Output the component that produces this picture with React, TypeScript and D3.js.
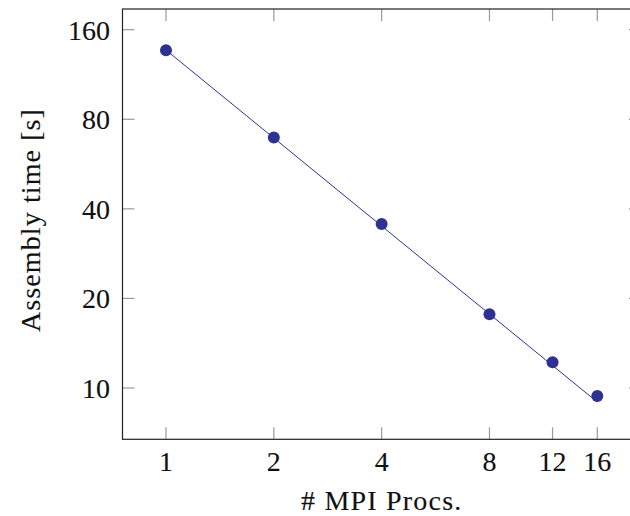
import React from "react";
import * as d3 from "d3";

const procs = [1, 2, 4, 8, 12, 16];
const times = [136.5, 69.5, 35.6, 17.7, 12.2, 9.4];
const fitProcs = [1, 16];
const fitTimes = [136.7, 8.97];
const xTicks = [1, 2, 4, 8, 12, 16];
const yTicks = [10, 20, 40, 80, 160];
const xLabel = "# MPI Procs.";
const yLabel = "Assembly time [s]";

const W = 630;
const H = 516;
const frame = { left: 122.5, right: 641, top: 9, bottom: 439.3 };
const color = "#2f3192";
const font = "'Liberation Serif', 'Times New Roman', serif";

export default function App() {
  const x = d3.scaleLog().base(2).domain([1, 16]).range([166, 597.3]);
  const y = d3.scaleLog().base(2).domain([10, 160]).range([388, 29.7]);
  const line = d3
    .line<number>()
    .x((_, i) => x(fitProcs[i]))
    .y((d) => y(d));
  const tickLen = 12;
  const textProps = { fill: "#111", stroke: "#111", strokeWidth: 0.12 };
  return (
    <svg
      width={W}
      height={H}
      style={{ position: "absolute", left: 0, top: 0, background: "#fff" }}
      fontFamily={font}
    >
      <rect x={0} y={0} width={W} height={H} fill="#fff" />
      {xTicks.map((t) => (
        <g key={"xt" + t} stroke="#9a9a9a" strokeWidth={1.2}>
          <line x1={x(t)} x2={x(t)} y1={frame.bottom} y2={frame.bottom - tickLen} />
          <line x1={x(t)} x2={x(t)} y1={frame.top} y2={frame.top + tickLen} />
        </g>
      ))}
      {yTicks.map((t) => (
        <g key={"yt" + t} stroke="#9a9a9a" strokeWidth={1.2}>
          <line x1={frame.left} x2={frame.left + tickLen} y1={y(t)} y2={y(t)} />
          <line x1={frame.right} x2={frame.right - tickLen} y1={y(t)} y2={y(t)} />
        </g>
      ))}
      <rect
        x={frame.left}
        y={frame.top}
        width={frame.right - frame.left}
        height={frame.bottom - frame.top}
        fill="none"
        stroke="#222"
        strokeWidth={1.2}
      />
      <path d={line(fitTimes) || ""} fill="none" stroke={color} strokeWidth={1} />
      {procs.map((p, i) => (
        <circle key={"pt" + p} cx={x(p)} cy={y(times[i])} r={6} fill={color} />
      ))}
      {xTicks.map((t) => (
        <text key={"xl" + t} x={x(t)} y={471} fontSize={28} textAnchor="middle" {...textProps}>
          {t}
        </text>
      ))}
      {yTicks.map((t) => (
        <text key={"yl" + t} x={110} y={y(t) + 10} fontSize={28} textAnchor="end" {...textProps}>
          {t}
        </text>
      ))}
      <text
        x={(frame.left + frame.right) / 2}
        y={510}
        fontSize={28}
        textAnchor="middle"
        letterSpacing={1.2}
        {...textProps}
      >
        {xLabel}
      </text>
      <text
        transform={`translate(40, 220) rotate(-90)`}
        fontSize={28}
        textAnchor="middle"
        letterSpacing={1.1}
        {...textProps}
      >
        {yLabel}
      </text>
    </svg>
  );
}
